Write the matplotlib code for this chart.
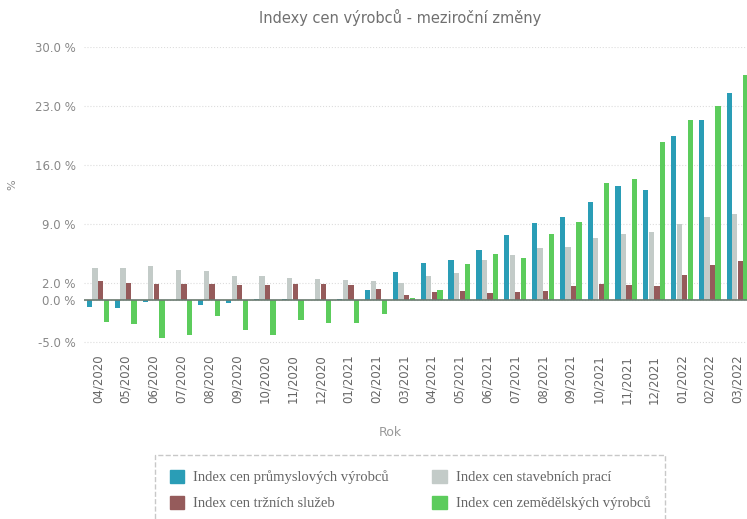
import matplotlib
matplotlib.use("Agg")
import matplotlib.pyplot as plt
import numpy as np
from matplotlib.patches import Patch

months = ["04/2020", "05/2020", "06/2020", "07/2020", "08/2020", "09/2020",
          "10/2020", "11/2020", "12/2020", "01/2021", "02/2021", "03/2021",
          "04/2021", "05/2021", "06/2021", "07/2021", "08/2021", "09/2021",
          "10/2021", "11/2021", "12/2021", "01/2022", "02/2022", "03/2022"]

prumysl = [-0.8, -0.9, -0.2, 0.0, -0.6, -0.3, 0.1, 0.1, 0.0, 0.1, 1.2, 3.3,
           4.4, 4.8, 5.9, 7.7, 9.1, 9.8, 11.6, 13.5, 13.1, 19.4, 21.3, 24.6]
stavby = [3.8, 3.8, 4.0, 3.6, 3.4, 2.8, 2.8, 2.6, 2.5, 2.4, 2.2, 2.0,
          2.8, 3.2, 4.7, 5.3, 6.2, 6.3, 7.3, 7.8, 8.1, 9.0, 9.8, 10.2]
sluzby = [2.3, 2.0, 1.9, 1.9, 1.9, 1.8, 1.8, 1.9, 1.9, 1.8, 1.3, 0.6,
          0.9, 1.1, 0.8, 0.9, 1.1, 1.7, 1.9, 1.8, 1.7, 3.0, 4.2, 4.6]
zemedelstvi = [-2.6, -2.8, -4.5, -4.2, -1.9, -3.6, -4.2, -2.4, -2.7, -2.7, -1.6, 0.2,
               1.2, 4.3, 5.5, 5.0, 7.8, 9.2, 13.9, 14.4, 18.7, 21.4, 23.0, 26.7]

series_names = ["Index cen průmyslových výrobců", "Index cen stavebních prací",
                "Index cen tržních služeb", "Index cen zemědělských výrobců"]
colors = ["#2a9db6", "#c3cbc8", "#955b5b", "#5ccc5c"]
yticks = [-5, 0, 2, 9, 16, 23, 30]

fig = plt.figure(figsize=(7.47, 5.19), dpi=100)
ax = fig.add_axes([84 / 747, 1 - 346.4 / 519, 1 - 84 / 747, (346.4 - 47.1) / 519])

x = np.arange(len(months))
w = 0.19
data = [prumysl, stavby, sluzby, zemedelstvi]
offsets = [-0.3, -0.1, 0.1, 0.3]
for vals, off, c in zip(data, offsets, colors):
    ax.bar(x + off, vals, width=w, color=c, zorder=3)

ax.axhline(0, color="#6a7a70", lw=1.2, zorder=4)
ax.set_xlim(-0.5, 23.34)
ax.set_ylim(-5.5, 30)
ax.set_yticks(yticks)
ax.set_yticklabels([f"{v:.1f} %" for v in yticks], color="#888888", fontsize=8.5)
ax.set_xticks(x)
ax.set_xticklabels(months, rotation=90, color="#666666", fontsize=8.5)
ax.tick_params(length=0, pad=6)
ax.grid(axis="y", linestyle=":", color="#dddddd", lw=0.8, zorder=0)
for s in ax.spines.values():
    s.set_visible(False)

fig.text(400 / 747, 1 - 17 / 519, "Indexy cen výrobců - meziroční změny",
         ha="center", va="center", fontsize=10.5, color="#707070")
fig.text(12 / 747, 1 - 185 / 519, "%", rotation=90, ha="center", va="center",
         fontsize=8, color="#888888")
fig.text(390 / 747, 1 - 432 / 519, "Rok", ha="center", va="center",
         fontsize=9, color="#999999")

handles = [Patch(color=colors[0]), Patch(color=colors[2]),
           Patch(color=colors[1]), Patch(color=colors[3])]
labels = [series_names[0], series_names[2], series_names[1], series_names[3]]
leg = fig.legend(handles, labels, loc="upper left",
                 bbox_to_anchor=(155 / 747, 1 - 455 / 519), ncol=2,
                 prop={"family": "Liberation Serif", "size": 10.5},
                 frameon=True, fancybox=False, edgecolor="#bbbbbb",
                 handlelength=1.0, handleheight=1.0, columnspacing=3.0,
                 handletextpad=0.6, borderaxespad=0,
                 borderpad=1.0, labelspacing=0.8)
leg.get_frame().set_linestyle("--")
for t in leg.get_texts():
    t.set_color("#666666")

fig.savefig("out.png", dpi=100)
